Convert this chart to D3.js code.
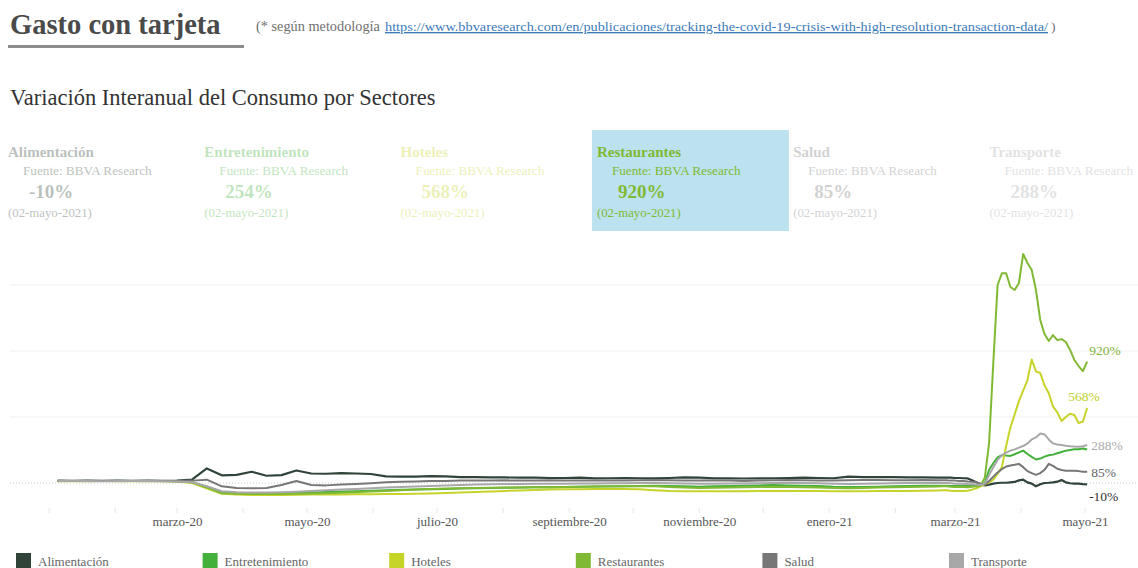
<!DOCTYPE html>
<html>
<head>
<meta charset="utf-8">
<script src="https://cdn.jsdelivr.net/npm/d3@7"></script>
<style>
  html, body { margin: 0; padding: 0; background: #fff; }
  svg { display: block; }
  svg text { font-family: "Liberation Serif", "Times New Roman", serif; }
</style>
</head>
<body>
<svg id="chart" width="1138" height="568"></svg>
<script>
// ---- data -------------------------------------------------------------
const sectors = ["Alimentación", "Entretenimiento", "Hoteles", "Restaurantes", "Salud", "Transporte"];
const sectorColors = ["#31443a", "#44b03c", "#c6d42a", "#80b934", "#777777", "#a8a8a8"];
const activeSector = "Restaurantes";
const sourceLabel = "Fuente: BBVA Research";
const lastDateLabel = "(02-mayo-2021)";

// observation dates: weekly from 5 Jan 2020 to 21 Feb 2021, then every other day to 2 May 2021
const weeklyDates = d3.timeDay.range(new Date(2020, 0, 5), new Date(2021, 1, 22), 7);
const recentDates = d3.timeDay.range(new Date(2021, 1, 23), new Date(2021, 4, 3), 2);
const dates = weeklyDates.concat(recentDates);

// year-on-year change, %
const alimentacion = [
  18, 16, 18, 16, 18, 16, 18, 16, 18, 25, 110, 58, 62, 85, 55, 60, 95, 72, 70, 75,
  72, 68, 50, 48, 48, 52, 50, 45, 45, 42, 42, 40, 40, 38, 38, 40, 36, 36, 38, 36,
  35, 38, 42, 40, 36, 35, 34, 35, 36, 38, 40, 38, 36, 48, 45, 44, 44, 42, 42, 40,
  40, 40, 40, 38, 38, 36, 35, 20, 5, -10, -18, -12, -5, 0, 2, 2, 5, 8, 20, 25,
  5, -5, -25, -10, 0, 2, 5, 10, 22, 5, -2, -5, -5, -8, -10
];
const entretenimiento = [
  16, 15, 16, 15, 16, 15, 16, 15, 14, 8, -30, -72, -78, -80, -78, -76, -74, -72, -68, -65,
  -62, -58, -55, -52, -50, -48, -45, -42, -40, -38, -36, -35, -33, -32, -30, -28, -26, -25, -24, -22,
  -20, -22, -25, -28, -25, -22, -20, -18, -15, -18, -20, -22, -28, -30, -30, -28, -25, -22, -20, -20,
  -20, -20, -22, -22, -22, -20, -20, -18, -15, -12, 0, 100, 150, 195, 212, 208, 205, 218, 232, 245,
  220, 198, 178, 185, 200, 210, 215, 225, 235, 245, 250, 255, 255, 262, 254
];
const hoteles = [
  15, 14, 15, 16, 15, 14, 15, 16, 12, 0, -40, -82, -88, -90, -90, -90, -89, -88, -88, -87,
  -86, -85, -84, -83, -82, -80, -76, -72, -68, -64, -60, -56, -53, -50, -48, -47, -46, -45, -46, -48,
  -55, -60, -62, -63, -63, -62, -62, -61, -60, -60, -60, -61, -62, -62, -62, -61, -60, -60, -58, -56,
  -55, -55, -58, -60, -60, -60, -58, -50, -40, -25, -10, 5, 25, 70, 120, 280, 420, 520, 620, 700,
  780, 935, 845, 833, 740, 680, 580, 535, 470, 500, 525, 515, 455, 465, 568
];
const restaurantes = [
  14, 15, 14, 15, 14, 15, 14, 15, 12, 5, -35, -78, -82, -84, -84, -83, -82, -80, -78, -74,
  -70, -65, -60, -55, -50, -46, -42, -40, -38, -36, -35, -34, -33, -32, -30, -28, -27, -26, -25, -24,
  -25, -30, -35, -38, -36, -34, -32, -30, -28, -30, -32, -35, -38, -40, -38, -35, -32, -30, -28, -26,
  -25, -25, -28, -30, -30, -30, -32, -28, -25, -20, 40, 303, 917, 1500, 1589, 1589, 1485, 1462, 1515, 1735,
  1667, 1614, 1462, 1235, 1129, 1076, 1121, 1083, 1090, 1068, 1008, 932, 886, 848, 920
];
const salud = [
  15, 15, 15, 15, 15, 15, 15, 15, 15, 18, 25, -25, -38, -40, -38, -15, 15, -15, -18, -12,
  -8, -2, 5, 10, 12, 15, 15, 18, 18, 18, 20, 18, 18, 20, 18, 18, 20, 18, 18, 20,
  22, 20, 18, 18, 20, 18, 15, 18, 20, 22, 20, 18, 18, 20, 22, 22, 20, 20, 22, 20,
  20, 20, 18, 18, 15, 15, 12, 10, 5, -5, -12, 15, 48, 80, 105, 125, 132, 138, 145, 120,
  90, 75, 62, 75, 100, 145, 130, 108, 98, 92, 92, 92, 90, 85, 85
];
const transporte = [
  15, 16, 15, 14, 15, 16, 15, 14, 12, 5, -25, -62, -70, -72, -72, -70, -66, -60, -55, -50,
  -45, -40, -35, -30, -26, -22, -18, -15, -12, -10, -8, -8, -6, -5, -5, -4, -3, -2, -2, 0,
  0, -2, -4, -6, -5, -4, -3, -2, 0, 2, 0, -2, -5, -8, -6, -4, -2, 0, 0, 2,
  0, 0, -2, -5, -5, -5, -8, -10, -12, -15, -5, 60, 120, 175, 210, 230, 245, 255, 268, 280,
  300, 330, 345, 375, 368, 330, 300, 292, 288, 282, 278, 276, 275, 278, 288
];
const seriesValues = [alimentacion, entretenimiento, hoteles, restaurantes, salud, transporte];

const gridValues = [500, 1000, 1500];
const tickDates = [new Date(2020, 2, 1), new Date(2020, 4, 1), new Date(2020, 6, 1), new Date(2020, 8, 1),
                   new Date(2020, 10, 1), new Date(2021, 0, 1), new Date(2021, 2, 1), new Date(2021, 4, 1)];
const tickLabels = ["marzo-20", "mayo-20", "julio-20", "septiembre-20", "noviembre-20", "enero-21", "marzo-21", "mayo-21"];

// ---- drawing ----------------------------------------------------------
const SERIF = "Liberation Serif, Times New Roman, serif";
const svg = d3.select("#chart");
svg.append("rect").attr("width", 1138).attr("height", 568).attr("fill", "#fff");

function label(parent, px, py, size, fill, str) {
  return parent.append("text").attr("x", px).attr("y", py)
    .attr("font-family", SERIF).attr("font-size", size).attr("fill", fill).text(str);
}

// header
label(svg, 10, 34, 28.5, "#4a4a4a", "Gasto con tarjeta").attr("font-weight", "bold");
svg.append("rect").attr("x", 8).attr("y", 45).attr("width", 236).attr("height", 3).attr("fill", "#8c8c8c");

label(svg, 256, 31, 14.3, "#707070", "(* según metodología");
label(svg, 385, 31, 13.5, "#3d7ab8",
  "https://www.bbvaresearch.com/en/publicaciones/tracking-the-covid-19-crisis-with-high-resolution-transaction-data/")
  .attr("text-decoration", "underline")
  .attr("textLength", 663).attr("lengthAdjust", "spacingAndGlyphs");
label(svg, 1051, 31, 13.5, "#707070", ")");

label(svg, 10, 105, 22.5, "#333", "Variación Interanual del Consumo por Sectores");

// sector cards
const cardStep = 196.3;
const cards = svg.append("g");
sectors.forEach((name, i) => {
  const left = 3 + cardStep * i;
  const tx = left + 5;
  const active = name === activeSector;
  const g = cards.append("g").attr("opacity", active ? 1 : 0.33);
  if (active) {
    g.append("rect").attr("x", left).attr("y", 130).attr("width", 197).attr("height", 101).attr("fill", "#bce2ef");
  }
  const col = sectorColors[i];
  const last = seriesValues[i][seriesValues[i].length - 1];
  label(g, tx, 157, 15, col, name).attr("font-weight", "bold");
  label(g, tx + 15, 175, 13.2, col, sourceLabel);
  label(g, tx + 21, 198, 19, col, last + "%").attr("font-weight", "bold");
  label(g, tx, 217, 12.8, col, lastDateLabel);
});

// scales
const x = d3.scaleTime()
  .domain([new Date(2020, 2, 1), new Date(2021, 4, 1)])
  .range([177, 1085]);
const y = d3.scaleLinear().domain([0, 1500]).range([483, 285]);

// grid
const plot = svg.append("g");
plot.selectAll("line.grid").data(gridValues).enter().append("line")
  .attr("class", "grid")
  .attr("x1", 10).attr("x2", 1138)
  .attr("y1", d => y(d)).attr("y2", d => y(d))
  .attr("stroke", "#efefef").attr("stroke-width", 1);
plot.append("line")
  .attr("x1", 10).attr("x2", 1138).attr("y1", y(0)).attr("y2", y(0))
  .attr("stroke", "#c8c8c8").attr("stroke-width", 1).attr("stroke-dasharray", "1,2");

// monthly tick marks
const months = d3.timeMonth.range(new Date(2020, 0, 1), new Date(2021, 5, 1));
plot.selectAll("line.mtick").data(months).enter().append("line")
  .attr("class", "mtick")
  .attr("x1", d => x(d)).attr("x2", d => x(d))
  .attr("y1", 508).attr("y2", 513)
  .attr("stroke", "#e6e6e6").attr("stroke-width", 1);

// x axis labels
const xAxis = d3.axisBottom(x)
  .tickValues(tickDates)
  .tickSize(0)
  .tickPadding(0)
  .tickFormat((d, i) => tickLabels[i]);
const axisG = svg.append("g").attr("transform", "translate(0,514)").call(xAxis);
axisG.attr("font-family", SERIF);
axisG.select(".domain").remove();
axisG.selectAll("text")
  .attr("font-family", SERIF)
  .attr("font-size", 13).attr("fill", "#555").attr("dy", "0.95em");

// lines
const line = d3.line()
  .x((d, i) => x(dates[i]))
  .y(d => y(d));
sectors.forEach((name, i) => {
  plot.append("path")
    .datum(seriesValues[i])
    .attr("fill", "none")
    .attr("stroke", sectorColors[i])
    .attr("stroke-width", name === "Alimentación" ? 2.2 : 2)
    .attr("stroke-linejoin", "round")
    .attr("d", line);
});

// end labels
const endLabels = [
  { s: 0, dx: 2, dy: 12, color: "#333333" },
  { s: 2, dx: -19, dy: -12, color: "#c0cf2a" },
  { s: 3, dx: 2, dy: -11, color: "#7eb43a" },
  { s: 4, dx: 4, dy: 0, color: "#666666" },
  { s: 5, dx: 4, dy: 0, color: "#aaaaaa" }
];
const lastIdx = dates.length - 1;
endLabels.forEach(l => {
  const v = seriesValues[l.s][lastIdx];
  label(plot, x(dates[lastIdx]) + l.dx, y(v) + l.dy, 13.5, l.color, v + "%")
    .attr("dy", "0.35em");
});

// legend
const legend = svg.append("g");
sectors.forEach((name, i) => {
  const lx = 16 + 186.6 * i;
  legend.append("rect").attr("x", lx).attr("y", 553).attr("width", 15).attr("height", 15)
    .attr("fill", sectorColors[i]);
  label(legend, lx + 22, 566, 13, "#666", name);
});
</script>
</body>
</html>
